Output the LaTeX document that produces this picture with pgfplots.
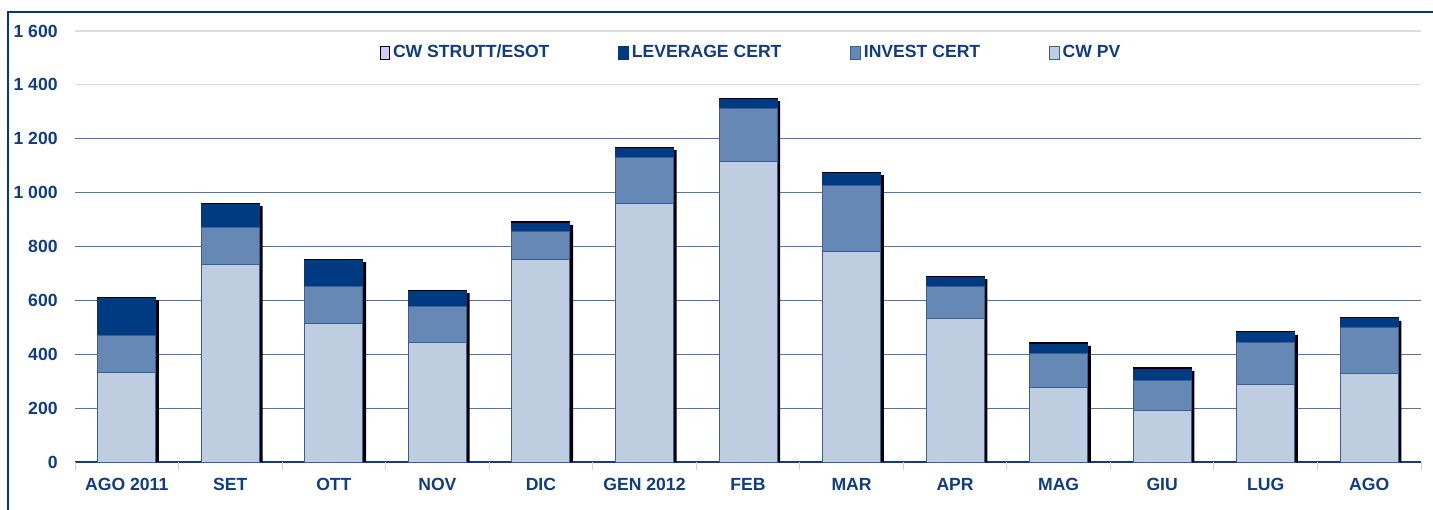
\documentclass[border=0pt]{standalone}
\usepackage{pgfplots}
\pgfplotsset{compat=1.18}
\usepackage{pgfplotstable}
\usepackage{fontspec}
\setmainfont{Liberation Sans}
\usetikzlibrary{calc}
\definecolor{txt}{HTML}{0F3C85}
\definecolor{pv}{HTML}{BFCDE1}
\definecolor{inv}{HTML}{6688B5}
\definecolor{lev}{HTML}{003A80}
\definecolor{esot}{HTML}{CCCCFF}
\definecolor{edge}{HTML}{3A5E9C}
\definecolor{gridlight}{HTML}{D6DDE9}
\definecolor{gridblue}{HTML}{4F74B2}
\definecolor{framec}{HTML}{003A80}

\pgfplotstableread{
x pv inv lev esot
0 334 137 137 4
1 735 137 85 4
2 516 137 96 4
3 445 134 55 4
4 753 104 30 4
5 958 174 33 4
6 1117 197 33 4
7 783 245 44 4
8 531 122 33 4
9 278 123 37 4
10 193 111 41 4
11 286 156 37 4
12 330 171 30 4
}\data

\pgfplotsset{
  base/.style={
    width=673pt, height=215.5pt, scale only axis,
    xmin=-0.5, xmax=12.5, ymin=0, ymax=1600,
    ybar stacked, bar width=29pt,
  },
  leg/.style={legend image code/.code={\draw[##1, line width=0.4pt] (0pt,-3.4pt) rectangle (4.8pt,3.4pt);}},
}
\newcommand{\lblfont}{\bfseries\fontsize{8.8}{10}\selectfont}

\begin{document}
\begin{tikzpicture}
\begin{axis}[base,
  axis x line*=bottom, axis y line*=left,
  y axis line style={draw=none},
  x axis line style={draw=txt, line width=0.7pt},
  major tick length=0pt,
  ytick={0,200,...,1600},
  yticklabels={0,200,400,600,800,1 000,1 200,1 400,1 600},
  ymajorgrids, major grid style={gridlight, line width=0.6pt},
  extra y ticks={200,400,600,800,1000,1200},
  extra y tick labels={},
  extra y tick style={grid=major, major grid style={gridblue, line width=0.6pt}},
  xtick={0,...,12},
  xticklabels={AGO 2011,SET,OTT,NOV,DIC,GEN 2012,FEB,MAR,APR,MAG,GIU,LUG,AGO},
  extra x ticks={-0.5,0.5,1.5,2.5,3.5,4.5,5.5,6.5,7.5,8.5,9.5,10.5,11.5,12.5},
  extra x tick labels={},
  extra x tick style={major tick length=4pt, tick align=outside, tick style={draw=gray!35, line width=0.5pt}},
  ticklabel style={font=\lblfont, text=txt},
  yticklabel style={anchor=east, inner sep=0pt, xshift=-8.5pt},
  xticklabel style={anchor=north, inner sep=0pt, yshift=-8pt},
]
\addplot[fill=black, draw=none, bar shift=1.6pt] table[x=x, y expr=\thisrow{pv}+\thisrow{inv}+\thisrow{lev}+\thisrow{esot}-11]{\data};
\end{axis}
\begin{axis}[base, hide axis,
  reverse legend,
  legend style={at={(0.5026,0.949)}, anchor=center, draw=none, fill=none,
    legend columns=-1, font=\lblfont, text=txt,
    /tikz/every even column/.append style={column sep=33pt},
    nodes={inner sep=1.5pt}},
]
\addplot[fill=pv, draw=edge, line width=0.5pt, leg] table[x=x, y=pv]{\data};
\addlegendentry{CW PV}
\addplot[fill=inv, draw=edge, line width=0.5pt, leg] table[x=x, y=inv]{\data};
\addlegendentry{INVEST CERT}
\addplot[fill=lev, draw=lev, line width=0.5pt, leg] table[x=x, y=lev]{\data};
\addlegendentry{LEVERAGE CERT}
\addplot[fill=black, draw=black, line width=0.5pt,
  legend image code/.code={\draw[fill=esot, draw=black, line width=0.4pt] (0pt,-3.4pt) rectangle (4.8pt,3.4pt);}]
  table[x=x, y=esot]{\data};
\addlegendentry{CW STRUTT/ESOT}
\end{axis}
\draw[framec, line width=1pt] ($(current axis.south west)+(-33.25pt,-40pt)$) |- ($(current axis.north east)+(20pt,9.75pt)$);
\pgfresetboundingbox
\path[use as bounding box] ($(current axis.south west)+(-37.5pt,-23.5pt)$) rectangle ($(current axis.north east)+(6pt,15.5pt)$);
\end{tikzpicture}
\end{document}
